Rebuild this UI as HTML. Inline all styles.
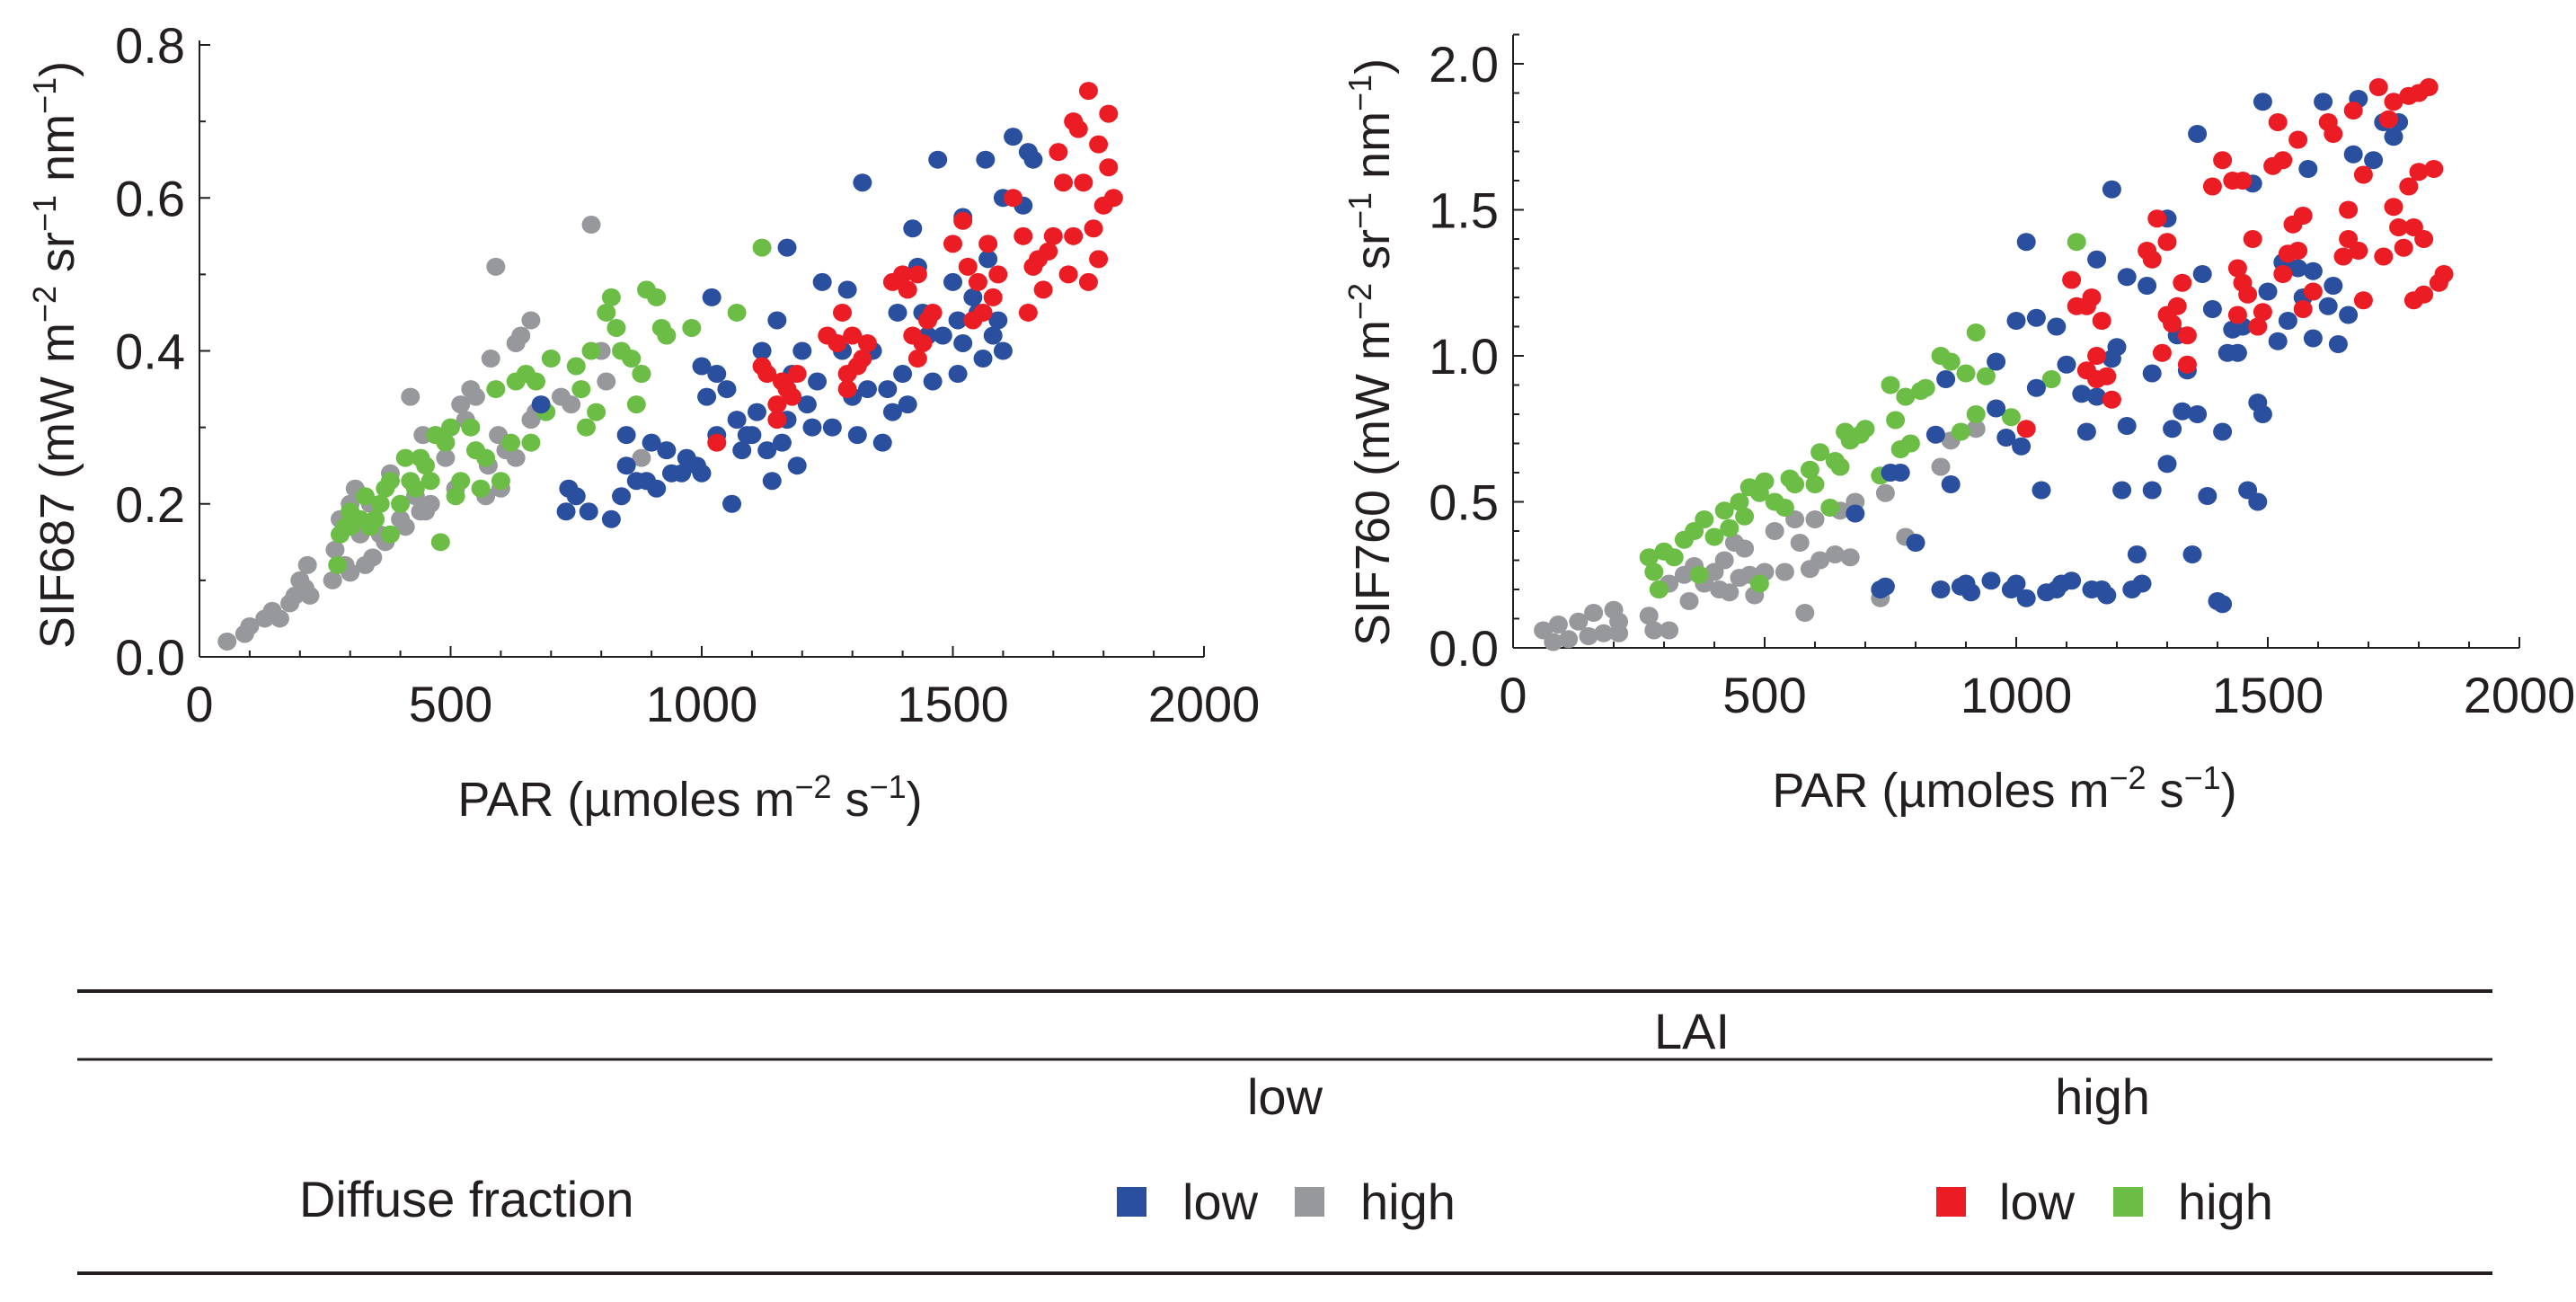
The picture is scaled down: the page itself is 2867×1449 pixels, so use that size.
<!DOCTYPE html>
<html><head><meta charset="utf-8"><style>
html,body{margin:0;padding:0;background:#fff;}
svg{display:block;}
text{font-family:"Liberation Sans Narrow","Liberation Sans",sans-serif;fill:#231f20;}
.tb{font-family:"Liberation Sans",sans-serif;font-size:56px;}
</style></head><body>
<svg id="fig" width="2867" height="1449" viewBox="0 0 2867 1449" xmlns="http://www.w3.org/2000/svg">
<g id="left"></g>
<g id="right"></g>
<g>
<line x1="86" y1="1103" x2="2774" y2="1103" stroke="#231f20" stroke-width="4"/>
<line x1="86" y1="1179" x2="2774" y2="1179" stroke="#231f20" stroke-width="3"/>
<line x1="86" y1="1417" x2="2774" y2="1417" stroke="#231f20" stroke-width="4"/>
<text class="tb" x="1883" y="1167" text-anchor="middle">LAI</text>
<text class="tb" x="1430" y="1240" text-anchor="middle">low</text>
<text class="tb" x="2340" y="1240" text-anchor="middle">high</text>
<text class="tb" x="333" y="1354">Diffuse fraction</text>
<rect x="1243" y="1321" width="33" height="33" fill="#2b4f9f"/>
<text class="tb" x="1316" y="1357">low</text>
<rect x="1441" y="1321" width="33" height="33" fill="#97989b"/>
<text class="tb" x="1514" y="1357">high</text>
<rect x="2155" y="1321" width="33" height="33" fill="#ec1c24"/>
<text class="tb" x="2225" y="1357">low</text>
<rect x="2352" y="1321" width="33" height="33" fill="#6bbd45"/>
<text class="tb" x="2424" y="1357">high</text>
</g>
</svg>
<script>
const xTicks=[0,500,1000,1500,2000];
const leftYTicks=[0,0.2,0.4,0.6,0.8];
const leftYLabels=["0.0","0.2","0.4","0.6","0.8"];
const rightYTicks=[0,0.5,1,1.5,2];
const rightYLabels=["0.0","0.5","1.0","1.5","2.0"];

const L_grayX=[55,90,100,130,145,160,180,190,200,210,215,220,265,270,280,290,300,300,310,320,330,340,345,360,370,380,400,410,420,430,440,445,450,460,470,490,510,520,530,540,550,570,575,580,590,595,610,630,640,660,660,670,720,740,780,800,810,880,880,630,600];
const L_grayY=[0.02,0.03,0.04,0.05,0.06,0.05,0.07,0.08,0.1,0.09,0.12,0.08,0.1,0.14,0.18,0.12,0.11,0.2,0.22,0.16,0.12,0.2,0.13,0.16,0.15,0.24,0.18,0.17,0.34,0.21,0.19,0.29,0.19,0.2,0.29,0.26,0.22,0.33,0.31,0.35,0.34,0.21,0.25,0.39,0.51,0.29,0.27,0.41,0.42,0.44,0.31,0.32,0.34,0.33,0.565,0.4,0.36,0.37,0.26,0.26,0.22];
const L_greenX=[275,280,290,300,300,320,330,340,350,360,370,380,380,400,410,420,430,440,450,460,470,480,490,500,510,520,540,550,560,570,590,600,620,630,650,660,670,690,700,750,760,770,780,790,810,820,830,840,860,870,880,890,910,920,930,980,1070,1120];
const L_greenY=[0.12,0.16,0.17,0.19,0.17,0.18,0.21,0.17,0.18,0.2,0.22,0.23,0.16,0.2,0.26,0.23,0.22,0.26,0.25,0.23,0.29,0.15,0.28,0.3,0.21,0.23,0.3,0.27,0.22,0.26,0.35,0.23,0.28,0.36,0.37,0.28,0.36,0.32,0.39,0.38,0.35,0.3,0.4,0.32,0.45,0.47,0.43,0.4,0.39,0.33,0.37,0.48,0.47,0.43,0.42,0.43,0.45,0.535];
const L_blueX=[680,730,735,750,775,820,840,850,850,870,890,900,910,930,940,960,970,990,1000,1000,1010,1020,1030,1030,1050,1060,1070,1080,1090,1100,1110,1120,1130,1140,1150,1160,1170,1170,1180,1190,1200,1210,1220,1230,1240,1260,1280,1290,1300,1310,1320,1330,1340,1360,1370,1380,1390,1400,1410,1420,1430,1440,1450,1460,1470,1480,1500,1510,1510,1520,1520,1540,1550,1560,1565,1570,1580,1590,1600,1600,1620,1640,1650,1660];
const L_blueY=[0.33,0.19,0.22,0.21,0.19,0.18,0.21,0.25,0.29,0.23,0.23,0.28,0.22,0.27,0.24,0.24,0.26,0.25,0.38,0.24,0.34,0.47,0.29,0.37,0.35,0.2,0.31,0.27,0.29,0.29,0.32,0.4,0.27,0.23,0.44,0.28,0.535,0.31,0.37,0.25,0.4,0.33,0.3,0.36,0.49,0.3,0.4,0.48,0.34,0.29,0.62,0.35,0.4,0.28,0.35,0.32,0.45,0.37,0.33,0.56,0.51,0.45,0.42,0.36,0.65,0.42,0.49,0.44,0.37,0.41,0.575,0.47,0.45,0.39,0.65,0.52,0.42,0.44,0.4,0.6,0.68,0.59,0.66,0.65];
const L_redX=[1030,1120,1130,1150,1150,1160,1170,1180,1190,1250,1270,1280,1290,1290,1300,1310,1320,1330,1380,1400,1410,1420,1430,1430,1440,1450,1460,1500,1520,1530,1540,1550,1560,1570,1580,1590,1620,1640,1650,1660,1670,1680,1690,1700,1710,1720,1730,1740,1740,1750,1760,1770,1770,1780,1790,1790,1800,1810,1810,1820];
const L_redY=[0.28,0.38,0.37,0.33,0.31,0.36,0.35,0.34,0.37,0.42,0.41,0.45,0.37,0.35,0.42,0.38,0.39,0.41,0.49,0.5,0.48,0.42,0.5,0.39,0.41,0.44,0.45,0.54,0.57,0.51,0.44,0.49,0.45,0.54,0.47,0.5,0.6,0.55,0.45,0.51,0.52,0.48,0.53,0.55,0.66,0.62,0.5,0.7,0.55,0.69,0.62,0.74,0.49,0.56,0.52,0.67,0.59,0.71,0.64,0.6];

const R_grayX=[60,80,90,110,130,150,160,180,200,210,210,270,280,290,310,310,340,350,360,380,400,410,420,430,440,450,460,470,500,520,540,560,570,580,600,610,640,650,670,680,730,740,780,850,870,920,590,480];
const R_grayY=[0.06,0.02,0.08,0.03,0.09,0.04,0.12,0.05,0.13,0.09,0.05,0.11,0.06,0.2,0.22,0.06,0.25,0.16,0.28,0.22,0.26,0.2,0.3,0.19,0.36,0.24,0.34,0.25,0.26,0.4,0.26,0.44,0.36,0.12,0.44,0.3,0.32,0.47,0.31,0.5,0.17,0.53,0.38,0.62,0.71,0.75,0.27,0.18];
const R_greenX=[270,280,290,300,320,340,360,370,380,400,420,430,450,460,470,490,500,520,540,550,560,590,600,610,630,640,650,660,670,690,700,730,750,760,770,780,790,810,820,850,870,890,900,920,920,940,990,1070,1120,490];
const R_greenY=[0.31,0.26,0.2,0.33,0.31,0.37,0.4,0.25,0.44,0.38,0.47,0.41,0.5,0.45,0.55,0.53,0.57,0.5,0.48,0.58,0.56,0.61,0.56,0.67,0.48,0.64,0.62,0.74,0.71,0.73,0.75,0.59,0.9,0.78,0.68,0.86,0.7,0.88,0.89,1.0,0.98,0.74,0.94,1.08,0.8,0.93,0.79,0.92,1.39,0.22];
const R_blueX=[680,730,740,750,770,800,840,850,860,870,890,900,910,950,960,960,980,990,1000,1000,1010,1020,1020,1040,1040,1050,1060,1080,1080,1090,1100,1110,1130,1140,1150,1160,1160,1170,1180,1190,1190,1200,1210,1220,1220,1230,1240,1250,1260,1270,1270,1300,1300,1310,1320,1330,1340,1350,1360,1360,1370,1380,1390,1400,1410,1410,1420,1430,1440,1450,1460,1470,1480,1480,1490,1490,1500,1520,1530,1540,1560,1570,1580,1590,1590,1610,1620,1630,1640,1660,1670,1680,1710,1730,1750,1760];
const R_blueY=[0.46,0.2,0.21,0.6,0.6,0.36,0.73,0.2,0.92,0.56,0.21,0.22,0.19,0.23,0.82,0.98,0.72,0.2,1.12,0.22,0.69,1.39,0.17,1.13,0.89,0.54,0.19,1.1,0.2,0.22,0.97,0.23,0.87,0.74,0.2,0.86,1.33,0.2,0.18,1.57,0.99,1.03,0.54,0.76,1.27,0.2,0.32,0.22,1.24,0.54,0.94,1.47,0.63,0.75,1.07,0.81,0.95,0.32,1.76,0.8,1.28,0.52,1.16,0.16,0.74,0.15,1.01,1.09,1.01,1.1,0.54,1.59,0.84,0.5,1.87,0.8,1.22,1.05,1.32,1.12,1.3,1.2,1.64,1.29,1.06,1.87,1.17,1.24,1.04,1.14,1.69,1.88,1.67,1.8,1.75,1.8];
const R_redX=[1020,1110,1120,1140,1140,1150,1160,1160,1170,1180,1190,1260,1270,1280,1290,1300,1300,1310,1320,1330,1340,1340,1390,1410,1430,1440,1440,1450,1450,1460,1470,1480,1490,1510,1520,1530,1530,1540,1550,1560,1560,1570,1570,1590,1620,1630,1650,1660,1660,1670,1680,1690,1690,1720,1730,1740,1750,1750,1760,1770,1780,1780,1790,1790,1800,1800,1810,1810,1820,1830,1840,1850];
const R_redY=[0.75,1.26,1.17,0.95,1.17,1.2,0.92,1.0,1.12,0.93,0.85,1.36,1.33,1.47,1.01,1.14,1.39,1.11,1.17,1.25,1.07,0.97,1.58,1.67,1.6,1.14,1.3,1.25,1.6,1.21,1.4,1.1,1.15,1.65,1.8,1.28,1.67,1.35,1.45,1.36,1.74,1.48,1.16,1.22,1.8,1.76,1.34,1.4,1.5,1.84,1.36,1.62,1.19,1.92,1.34,1.81,1.87,1.51,1.44,1.37,1.89,1.58,1.44,1.19,1.9,1.63,1.4,1.21,1.92,1.64,1.25,1.28];

const NS="http://www.w3.org/2000/svg";
const INK="#231f20";
function mk(parent,tag,attrs){const e=document.createElementNS(NS,tag);for(const k in attrs)e.setAttribute(k,attrs[k]);parent.appendChild(e);return e;}

function buildChart(g,cfg){
  const sx=v=>cfg.x0+(v/2000)*(cfg.x1-cfg.x0);
  const sy=v=>cfg.y0-(v/cfg.ymax)*(cfg.y0-cfg.yTop);
  let e=mk(g,'line',{x1:cfg.x0,y1:cfg.y0,x2:cfg.x1,y2:cfg.y0,stroke:INK,'stroke-width':2});
  
  
  e=mk(g,'line',{x1:cfg.x0,y1:cfg.y0,x2:cfg.x0,y2:cfg.axisTop,stroke:INK,'stroke-width':2});
  
  
  for(let v=0;v<=2000;v+=100){
    const major=v%500===0;
    e=mk(g,'line',{x1:sx(v),y1:cfg.y0,x2:sx(v),y2:cfg.y0-(major?12:7),stroke:INK,'stroke-width':2});
    
    
  }
  xTicks.forEach(v=>{
    const t=mk(g,'text',{x:sx(v),y:cfg.y0+72,'text-anchor':'middle','font-size':56});
    t.textContent=String(v);
    
    
  });
  for(let i=0;i<=cfg.minorCount;i++){
    const v=i*cfg.minorStep;
    const major=cfg.yTicks.some(t=>Math.abs(t-v)<1e-9);
    e=mk(g,'line',{x1:cfg.x0,y1:sy(v),x2:cfg.x0+(major?12:7),y2:sy(v),stroke:INK,'stroke-width':2});
    
    
  }
  cfg.yTicks.forEach((v,i)=>{
    const t=mk(g,'text',{x:cfg.x0-16,y:sy(v)+20,'text-anchor':'end','font-size':56});
    t.textContent=cfg.yLabels[i];
    
    
  });
  const xt=mk(g,'text',{x:cfg.xtX,y:cfg.xtY,'text-anchor':'middle','font-size':54});
  xt.innerHTML='PAR (µmoles m<tspan baseline-shift="super" font-size="36">−2</tspan> s<tspan baseline-shift="super" font-size="36">−1</tspan>)';
  
  
  const yt=mk(g,'text',{x:0,y:0,'text-anchor':'middle','font-size':54,transform:`translate(${cfg.ytX},${cfg.ytY}) rotate(-90)`});
  yt.innerHTML=cfg.ytitle+' (mW m<tspan baseline-shift="super" font-size="36">−2</tspan> sr<tspan baseline-shift="super" font-size="36">−1</tspan> nm<tspan baseline-shift="super" font-size="36">−1</tspan>)';
  
  
  cfg.series.forEach(s=>{
    const sg=mk(g,'g',{fill:s.color});
    
    
    s.xs.forEach((xv,i)=>{
      const c=mk(sg,'ellipse',{cx:sx(xv),cy:sy(s.ys[i]),rx:10.5,ry:10});
      
      
    });
  });
}
buildChart(document.getElementById('left'),{x0:222,x1:1340,y0:731,yTop:50,axisTop:45,ymax:0.8,
  yTicks:leftYTicks,yLabels:leftYLabels,minorStep:0.1,minorCount:8,
  xtX:768,xtY:908,ytX:82,ytY:395,ytitle:'SIF687',
  series:[{name:'series-lowlai-highdiffuse',color:'#97989b',xs:L_grayX,ys:L_grayY},
          {name:'series-highlai-highdiffuse',color:'#6bbd45',xs:L_greenX,ys:L_greenY},
          {name:'series-lowlai-lowdiffuse',color:'#2b4f9f',xs:L_blueX,ys:L_blueY},
          {name:'series-highlai-lowdiffuse',color:'#ec1c24',xs:L_redX,ys:L_redY}]});
buildChart(document.getElementById('right'),{x0:1684,x1:2804,y0:721,yTop:71,axisTop:39,ymax:2.0,
  yTicks:rightYTicks,yLabels:rightYLabels,minorStep:0.1,minorCount:21,
  xtX:2231,xtY:898,ytX:1546,ytY:392,ytitle:'SIF760',
  series:[{name:'series-lowlai-highdiffuse',color:'#97989b',xs:R_grayX,ys:R_grayY},
          {name:'series-highlai-highdiffuse',color:'#6bbd45',xs:R_greenX,ys:R_greenY},
          {name:'series-lowlai-lowdiffuse',color:'#2b4f9f',xs:R_blueX,ys:R_blueY},
          {name:'series-highlai-lowdiffuse',color:'#ec1c24',xs:R_redX,ys:R_redY}]});
</script>
</body></html>
